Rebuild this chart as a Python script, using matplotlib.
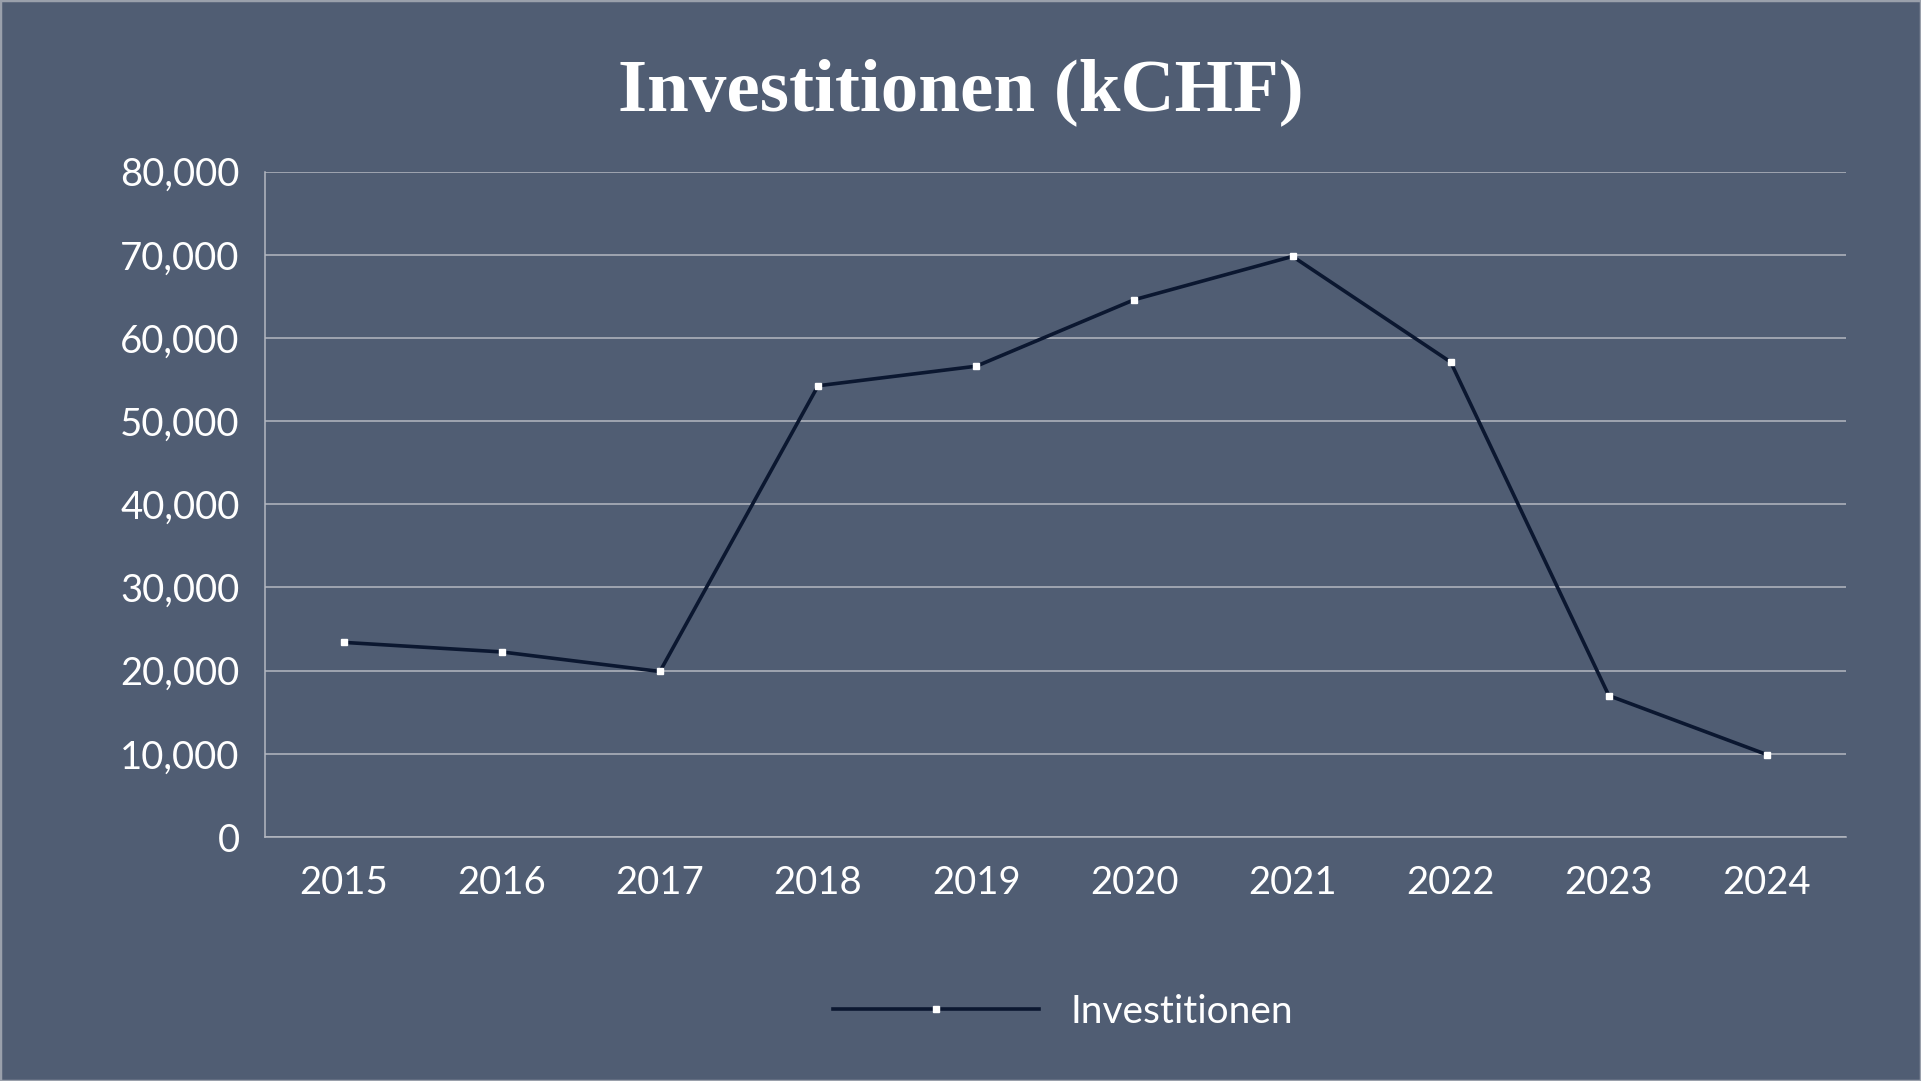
import matplotlib
matplotlib.use("Agg")
import matplotlib.pyplot as plt
from matplotlib.patches import Rectangle
from matplotlib.ticker import FuncFormatter, MultipleLocator

# Colors
BG = "#505d73"
LINE = "#0b1730"
GRID = "#b4b8c1"
WHITE = "#ffffff"

# Data
years = ["2015", "2016", "2017", "2018", "2019", "2020", "2021", "2022", "2023", "2024"]
investitionen = [23400, 22250, 19900, 54250, 56600, 64600, 69800, 57100, 17000, 9900]
series_name = "Investitionen"
title = "Investitionen (kCHF)"

fig = plt.figure(figsize=(19.21, 10.81), dpi=100, facecolor=BG)
ax = fig.add_axes([0.1377, 0.2257, 0.8233, 0.6156])
ax.set_facecolor(BG)

x = range(len(years))
ax.plot(x, investitionen, color=LINE, linewidth=2.6, marker="s", markersize=5,
        markerfacecolor=WHITE, markeredgecolor=WHITE, label=series_name, zorder=3)

ax.set_xlim(-0.5, len(years) - 0.5)
ax.set_ylim(0, 80000)
ax.yaxis.set_major_locator(MultipleLocator(10000))
ax.yaxis.set_major_formatter(FuncFormatter(lambda v, p: f"{int(v):,}"))
ax.set_xticks(list(x))
ax.set_xticklabels(years)

ax.grid(axis="y", color=GRID, linewidth=1.1)
ax.set_axisbelow(True)
for s in ["top", "right"]:
    ax.spines[s].set_visible(False)
for s in ["left", "bottom"]:
    ax.spines[s].set_color(GRID)
    ax.spines[s].set_linewidth(1.1)

ax.tick_params(length=0, colors=WHITE, labelsize=27.5)
ax.tick_params(axis="y", pad=18)
ax.tick_params(axis="x", pad=20)
for lbl in ax.get_xticklabels() + ax.get_yticklabels():
    lbl.set_fontfamily("Lato")

fig.text(0.5, 1 - 92 / 1081, title, ha="center", va="center", color=WHITE,
         fontsize=54, fontfamily="Liberation Serif", fontweight="bold")

leg = fig.legend(loc="center", bbox_to_anchor=(0.5535, 0.0640), frameon=False,
                 handlelength=5.3, handletextpad=0.8,
                 prop={"family": "Lato", "size": 28})
for t in leg.get_texts():
    t.set_color(WHITE)

fig.patches.append(Rectangle((0, 0), 1, 1, transform=fig.transFigure, fill=False,
                             edgecolor="#9aa0ab", linewidth=2.5))

fig.savefig("out.png", dpi=100, facecolor=BG)
